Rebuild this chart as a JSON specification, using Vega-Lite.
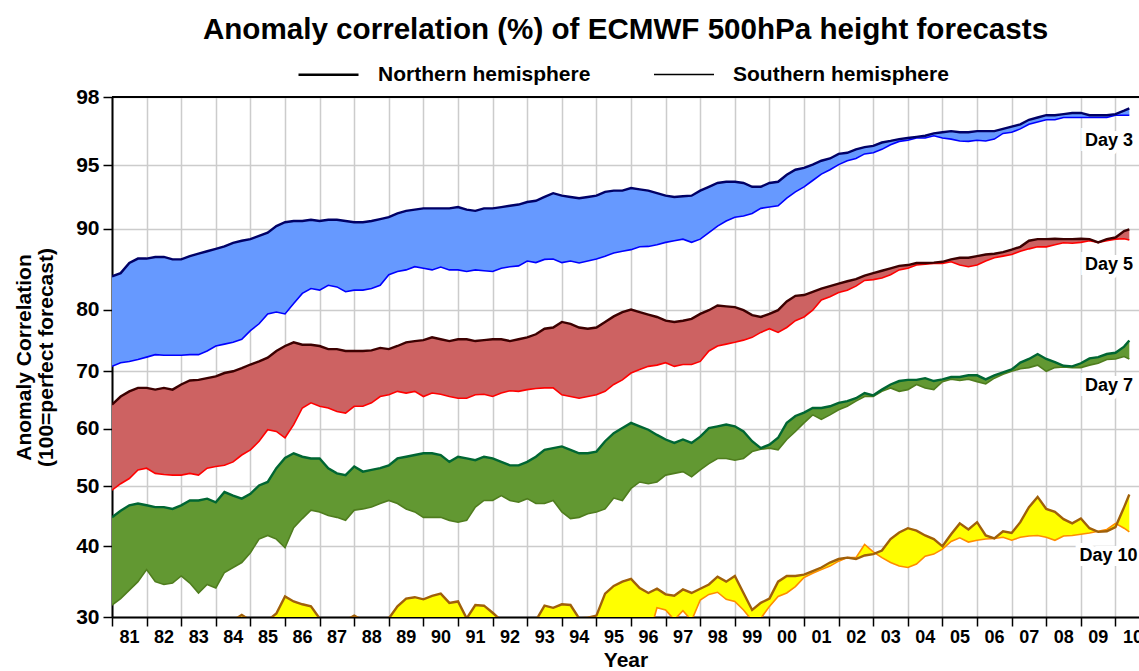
{
"$schema": "https://vega.github.io/schema/vega-lite/v6.json",
"width": 1027, "height": 520,
"autosize": "none",
"padding": {"left": 112, "top": 97, "right": 0, "bottom": 54},
"background": "white",
"title": {"text": "Anomaly correlation (%) of ECMWF 500hPa height forecasts", "font": "Liberation Sans", "fontSize": 29.6, "fontWeight": "bold", "color": "#000", "anchor": "middle", "offset": -3},
"config": {
 "view": {"stroke": null},
 "font": "Liberation Sans",
 "axis": {"labelFont": "Liberation Sans", "labelFontWeight": "bold", "labelColor": "#000", "titleFont": "Liberation Sans", "titleFontWeight": "bold", "titleColor": "#000", "domainColor": "#000", "domainWidth": 2, "tickColor": "#000", "tickWidth": 1.5, "tickSize": 9, "gridColor": "#cccccc", "gridWidth": 1.5},
 "axisX": {"labelOverlap": false},
 "legend": {"orient": "none", "legendX": 185, "legendY": -54, "direction": "horizontal", "symbolType": "stroke", "symbolSize": 3600, "symbolStrokeColor": "#000", "labelFont": "Liberation Sans", "labelFontSize": 21, "labelFontWeight": "bold", "labelColor": "#000", "labelOffset": 18, "columnPadding": 59, "labelLimit": 400, "padding": 0}
},
"datasets": {
"d": [
{"t":1981.0,"n3":84.1,"s3":70.8,"n5":64.2,"s5":49.3,"n7":44.8,"s7":31.7,"n10":29.5,"s10":27},
{"t":1981.25,"n3":84.5,"s3":71.4,"n5":65.6,"s5":50.4,"n7":45.9,"s7":32.6,"n10":29.5,"s10":27},
{"t":1981.5,"n3":85.75,"s3":71.6,"n5":66.5,"s5":51.3,"n7":46.8,"s7":33.8,"n10":29.5,"s10":27},
{"t":1981.75,"n3":86.3,"s3":71.9,"n5":67.1,"s5":52.8,"n7":47.1,"s7":35.0,"n10":29.5,"s10":27},
{"t":1982.0,"n3":86.3,"s3":72.3,"n5":67.1,"s5":53.1,"n7":46.8,"s7":36.7,"n10":29.5,"s10":27},
{"t":1982.25,"n3":86.5,"s3":72.7,"n5":66.8,"s5":52.2,"n7":46.5,"s7":35.0,"n10":29.5,"s10":27},
{"t":1982.5,"n3":86.5,"s3":72.6,"n5":67.1,"s5":52.0,"n7":46.5,"s7":34.6,"n10":29.5,"s10":27},
{"t":1982.75,"n3":86.2,"s3":72.6,"n5":66.8,"s5":51.9,"n7":46.2,"s7":34.8,"n10":29.5,"s10":27},
{"t":1983.0,"n3":86.2,"s3":72.6,"n5":67.7,"s5":51.9,"n7":46.8,"s7":35.8,"n10":29.5,"s10":27},
{"t":1983.25,"n3":86.6,"s3":72.7,"n5":68.4,"s5":52.2,"n7":47.6,"s7":34.8,"n10":29.5,"s10":27},
{"t":1983.5,"n3":86.9,"s3":72.7,"n5":68.5,"s5":51.9,"n7":47.6,"s7":33.4,"n10":29.5,"s10":27},
{"t":1983.75,"n3":87.2,"s3":73.3,"n5":68.8,"s5":53.1,"n7":47.9,"s7":34.6,"n10":29.5,"s10":27},
{"t":1984.0,"n3":87.5,"s3":74.1,"n5":69.1,"s5":53.4,"n7":47.3,"s7":34.1,"n10":29.5,"s10":27},
{"t":1984.25,"n3":87.8,"s3":74.4,"n5":69.7,"s5":53.6,"n7":49.0,"s7":36.3,"n10":29.5,"s10":27},
{"t":1984.5,"n3":88.25,"s3":74.7,"n5":70.0,"s5":54.2,"n7":48.4,"s7":37.0,"n10":29.5,"s10":27},
{"t":1984.75,"n3":88.5,"s3":75.2,"n5":70.5,"s5":55.4,"n7":47.9,"s7":37.7,"n10":30.3,"s10":27},
{"t":1985.0,"n3":88.7,"s3":76.6,"n5":71.1,"s5":56.3,"n7":48.7,"s7":39.1,"n10":29.5,"s10":27},
{"t":1985.25,"n3":89.1,"s3":77.7,"n5":71.6,"s5":57.8,"n7":50.1,"s7":41.2,"n10":29.5,"s10":27},
{"t":1985.5,"n3":89.5,"s3":79.3,"n5":72.2,"s5":59.8,"n7":50.7,"s7":41.8,"n10":29.5,"s10":27},
{"t":1985.75,"n3":90.2,"s3":79.6,"n5":73.3,"s5":59.5,"n7":53.1,"s7":41.2,"n10":30.5,"s10":27},
{"t":1986.0,"n3":90.5,"s3":79.3,"n5":74.1,"s5":58.4,"n7":54.9,"s7":39.8,"n10":32.9,"s10":27},
{"t":1986.25,"n3":90.6,"s3":80.75,"n5":74.7,"s5":60.7,"n7":55.7,"s7":43.1,"n10":32.2,"s10":27},
{"t":1986.5,"n3":90.6,"s3":82.0,"n5":74.3,"s5":63.6,"n7":55.1,"s7":44.6,"n10":31.8,"s10":27},
{"t":1986.75,"n3":90.7,"s3":82.6,"n5":74.3,"s5":64.5,"n7":54.8,"s7":46.0,"n10":31.5,"s10":27},
{"t":1987.0,"n3":90.6,"s3":82.4,"n5":74.1,"s5":63.9,"n7":54.8,"s7":45.7,"n10":29.8,"s10":27},
{"t":1987.25,"n3":90.7,"s3":83.0,"n5":73.6,"s5":63.6,"n7":53.1,"s7":45.1,"n10":29.5,"s10":27},
{"t":1987.5,"n3":90.7,"s3":82.8,"n5":73.6,"s5":63.0,"n7":52.2,"s7":44.8,"n10":29.5,"s10":27},
{"t":1987.75,"n3":90.6,"s3":82.2,"n5":73.3,"s5":62.7,"n7":51.9,"s7":44.3,"n10":29.5,"s10":27},
{"t":1988.0,"n3":90.5,"s3":82.4,"n5":73.3,"s5":63.9,"n7":53.4,"s7":46.0,"n10":30.2,"s10":27},
{"t":1988.25,"n3":90.5,"s3":82.4,"n5":73.3,"s5":63.9,"n7":52.5,"s7":46.2,"n10":29.5,"s10":27},
{"t":1988.5,"n3":90.6,"s3":82.6,"n5":73.4,"s5":64.5,"n7":52.8,"s7":46.5,"n10":29.5,"s10":27},
{"t":1988.75,"n3":90.75,"s3":83.0,"n5":73.8,"s5":65.6,"n7":53.1,"s7":47.1,"n10":29.8,"s10":27},
{"t":1989.0,"n3":90.9,"s3":84.3,"n5":73.6,"s5":65.9,"n7":53.6,"s7":47.6,"n10":29.8,"s10":27},
{"t":1989.25,"n3":91.2,"s3":84.7,"n5":74.1,"s5":66.5,"n7":54.8,"s7":47.1,"n10":31.5,"s10":27},
{"t":1989.5,"n3":91.4,"s3":84.9,"n5":74.7,"s5":66.2,"n7":55.1,"s7":46.2,"n10":32.6,"s10":27},
{"t":1989.75,"n3":91.5,"s3":85.3,"n5":74.9,"s5":66.5,"n7":55.4,"s7":45.7,"n10":32.8,"s10":27},
{"t":1990.0,"n3":91.6,"s3":85.1,"n5":75.05,"s5":65.6,"n7":55.7,"s7":44.8,"n10":32.5,"s10":27},
{"t":1990.25,"n3":91.6,"s3":84.9,"n5":75.5,"s5":66.2,"n7":55.7,"s7":44.8,"n10":33.0,"s10":27},
{"t":1990.5,"n3":91.6,"s3":85.25,"n5":75.2,"s5":66.0,"n7":55.4,"s7":44.8,"n10":33.3,"s10":27},
{"t":1990.75,"n3":91.6,"s3":84.9,"n5":74.9,"s5":65.6,"n7":54.2,"s7":44.3,"n10":32.0,"s10":27},
{"t":1991.0,"n3":91.7,"s3":84.9,"n5":75.2,"s5":65.3,"n7":55.1,"s7":44.0,"n10":32.2,"s10":27},
{"t":1991.25,"n3":91.5,"s3":84.7,"n5":75.2,"s5":65.3,"n7":54.8,"s7":44.3,"n10":29.8,"s10":27},
{"t":1991.5,"n3":91.4,"s3":84.9,"n5":74.9,"s5":65.9,"n7":54.5,"s7":46.5,"n10":31.7,"s10":27},
{"t":1991.75,"n3":91.6,"s3":84.8,"n5":75.05,"s5":66.0,"n7":55.1,"s7":47.6,"n10":31.6,"s10":27},
{"t":1992.0,"n3":91.6,"s3":84.7,"n5":75.2,"s5":65.6,"n7":54.8,"s7":47.6,"n10":30.6,"s10":27},
{"t":1992.25,"n3":91.7,"s3":85.1,"n5":75.2,"s5":66.2,"n7":54.2,"s7":48.4,"n10":29.5,"s10":27},
{"t":1992.5,"n3":91.8,"s3":85.3,"n5":74.9,"s5":66.6,"n7":53.6,"s7":47.6,"n10":29.5,"s10":27},
{"t":1992.75,"n3":91.9,"s3":85.4,"n5":75.2,"s5":66.5,"n7":53.6,"s7":47.3,"n10":29.5,"s10":27},
{"t":1993.0,"n3":92.1,"s3":86.0,"n5":75.5,"s5":66.8,"n7":54.2,"s7":47.9,"n10":29.5,"s10":27},
{"t":1993.25,"n3":92.2,"s3":85.8,"n5":76.0,"s5":67.0,"n7":55.1,"s7":47.1,"n10":29.5,"s10":27},
{"t":1993.5,"n3":92.5,"s3":86.2,"n5":76.9,"s5":67.1,"n7":56.3,"s7":47.1,"n10":31.6,"s10":27},
{"t":1993.75,"n3":92.8,"s3":86.25,"n5":77.1,"s5":67.1,"n7":56.6,"s7":47.6,"n10":31.3,"s10":27},
{"t":1994.0,"n3":92.6,"s3":85.8,"n5":78.0,"s5":65.9,"n7":56.9,"s7":45.7,"n10":31.8,"s10":27},
{"t":1994.25,"n3":92.5,"s3":86.0,"n5":77.7,"s5":65.6,"n7":56.3,"s7":44.6,"n10":31.7,"s10":27},
{"t":1994.5,"n3":92.4,"s3":85.75,"n5":77.1,"s5":65.3,"n7":55.7,"s7":44.8,"n10":29.8,"s10":27},
{"t":1994.75,"n3":92.5,"s3":86.0,"n5":76.9,"s5":65.6,"n7":55.7,"s7":45.4,"n10":29.9,"s10":27},
{"t":1995.0,"n3":92.6,"s3":86.25,"n5":77.1,"s5":65.9,"n7":56.0,"s7":45.7,"n10":30.2,"s10":27},
{"t":1995.25,"n3":92.9,"s3":86.6,"n5":78.0,"s5":66.5,"n7":57.8,"s7":46.2,"n10":33.3,"s10":27},
{"t":1995.5,"n3":93.0,"s3":87.0,"n5":78.9,"s5":67.7,"n7":59.2,"s7":48.0,"n10":34.4,"s10":27},
{"t":1995.75,"n3":93.0,"s3":87.2,"n5":79.6,"s5":68.5,"n7":60.1,"s7":47.6,"n10":35.0,"s10":27},
{"t":1996.0,"n3":93.2,"s3":87.4,"n5":80.0,"s5":69.7,"n7":61.0,"s7":49.6,"n10":35.4,"s10":27},
{"t":1996.25,"n3":93.1,"s3":87.75,"n5":79.6,"s5":70.3,"n7":60.4,"s7":50.7,"n10":34.1,"s10":27},
{"t":1996.5,"n3":93.0,"s3":87.8,"n5":79.2,"s5":70.8,"n7":59.8,"s7":50.4,"n10":33.4,"s10":27},
{"t":1996.75,"n3":92.8,"s3":88.0,"n5":78.8,"s5":71.0,"n7":58.9,"s7":50.7,"n10":34.0,"s10":31.3},
{"t":1997.0,"n3":92.6,"s3":88.3,"n5":78.2,"s5":71.4,"n7":58.1,"s7":51.9,"n10":33.2,"s10":31.0},
{"t":1997.25,"n3":92.5,"s3":88.5,"n5":78.0,"s5":70.8,"n7":57.5,"s7":52.2,"n10":33.0,"s10":29.6},
{"t":1997.5,"n3":92.55,"s3":88.7,"n5":78.2,"s5":71.1,"n7":58.1,"s7":52.5,"n10":33.9,"s10":30.9},
{"t":1997.75,"n3":92.6,"s3":88.3,"n5":78.5,"s5":71.1,"n7":57.5,"s7":51.6,"n10":33.4,"s10":29.5},
{"t":1998.0,"n3":93.0,"s3":88.7,"n5":79.3,"s5":71.6,"n7":58.6,"s7":52.8,"n10":34.0,"s10":32.4},
{"t":1998.25,"n3":93.3,"s3":89.5,"n5":79.9,"s5":73.3,"n7":60.1,"s7":53.9,"n10":34.6,"s10":33.2},
{"t":1998.5,"n3":93.6,"s3":90.2,"n5":80.5,"s5":74.1,"n7":60.4,"s7":54.8,"n10":35.7,"s10":33.5},
{"t":1998.75,"n3":93.7,"s3":90.6,"n5":80.4,"s5":74.4,"n7":60.7,"s7":54.8,"n10":35.0,"s10":32.5},
{"t":1999.0,"n3":93.7,"s3":90.9,"n5":80.3,"s5":74.7,"n7":60.4,"s7":54.5,"n10":35.8,"s10":32.2},
{"t":1999.25,"n3":93.6,"s3":91.0,"n5":79.9,"s5":75.05,"n7":59.5,"s7":54.8,"n10":33.4,"s10":31.0},
{"t":1999.5,"n3":93.3,"s3":91.2,"n5":79.1,"s5":75.5,"n7":57.8,"s7":56.0,"n10":31.0,"s10":29.5},
{"t":1999.75,"n3":93.3,"s3":91.6,"n5":78.8,"s5":76.3,"n7":56.6,"s7":56.4,"n10":32.0,"s10":29.8},
{"t":2000.0,"n3":93.6,"s3":91.7,"n5":79.3,"s5":76.9,"n7":57.2,"s7":56.6,"n10":32.6,"s10":31.5},
{"t":2000.25,"n3":93.7,"s3":91.8,"n5":79.9,"s5":76.3,"n7":58.4,"s7":56.3,"n10":35.0,"s10":32.9},
{"t":2000.5,"n3":94.25,"s3":92.4,"n5":81.0,"s5":77.1,"n7":61.0,"s7":58.1,"n10":35.8,"s10":33.4},
{"t":2000.75,"n3":94.65,"s3":92.9,"n5":81.7,"s5":78.2,"n7":62.2,"s7":59.5,"n10":35.8,"s10":34.3},
{"t":2001.0,"n3":94.8,"s3":93.3,"n5":81.8,"s5":78.8,"n7":62.8,"s7":61.0,"n10":36.0,"s10":35.6},
{"t":2001.25,"n3":95.03,"s3":93.8,"n5":82.2,"s5":79.9,"n7":63.6,"s7":62.4,"n10":36.5,"s10":36.2},
{"t":2001.5,"n3":95.2,"s3":94.3,"n5":82.6,"s5":81.2,"n7":63.6,"s7":61.6,"n10":37.0,"s10":36.7},
{"t":2001.75,"n3":95.3,"s3":94.65,"n5":82.9,"s5":81.6,"n7":63.9,"s7":62.4,"n10":37.7,"s10":37.2},
{"t":2002.0,"n3":95.5,"s3":95.03,"n5":83.2,"s5":82.1,"n7":64.5,"s7":63.3,"n10":38.2,"s10":37.9},
{"t":2002.25,"n3":95.55,"s3":95.2,"n5":83.5,"s5":82.4,"n7":64.8,"s7":63.9,"n10":38.4,"s10":38.4},
{"t":2002.5,"n3":95.7,"s3":95.3,"n5":83.75,"s5":82.9,"n7":65.3,"s7":64.8,"n10":38.2,"s10":38.4},
{"t":2002.75,"n3":95.8,"s3":95.5,"n5":84.2,"s5":83.6,"n7":66.2,"s7":65.6,"n10":38.7,"s10":40.3},
{"t":2003.0,"n3":95.85,"s3":95.55,"n5":84.5,"s5":83.7,"n7":65.8,"s7":65.6,"n10":38.9,"s10":39.2},
{"t":2003.25,"n3":96.0,"s3":95.7,"n5":84.8,"s5":83.9,"n7":66.8,"s7":66.5,"n10":39.4,"s10":38.4},
{"t":2003.5,"n3":96.07,"s3":95.9,"n5":85.1,"s5":84.3,"n7":67.7,"s7":67.1,"n10":41.2,"s10":37.7},
{"t":2003.75,"n3":96.15,"s3":96.05,"n5":85.4,"s5":84.9,"n7":68.3,"s7":66.5,"n10":42.3,"s10":37.2},
{"t":2004.0,"n3":96.2,"s3":96.1,"n5":85.5,"s5":85.1,"n7":68.5,"s7":66.8,"n10":43.0,"s10":37.0},
{"t":2004.25,"n3":96.25,"s3":96.2,"n5":85.75,"s5":85.5,"n7":68.5,"s7":67.7,"n10":42.6,"s10":37.5},
{"t":2004.5,"n3":96.3,"s3":96.2,"n5":85.75,"s5":85.6,"n7":68.8,"s7":67.1,"n10":41.8,"s10":38.6},
{"t":2004.75,"n3":96.4,"s3":96.3,"n5":85.8,"s5":85.7,"n7":68.3,"s7":66.8,"n10":41.2,"s10":38.9},
{"t":2005.0,"n3":96.45,"s3":96.2,"n5":85.9,"s5":85.7,"n7":68.6,"s7":68.2,"n10":40.0,"s10":39.6},
{"t":2005.25,"n3":96.5,"s3":96.15,"n5":86.2,"s5":85.9,"n7":69.0,"s7":68.6,"n10":42.0,"s10":40.8},
{"t":2005.5,"n3":96.45,"s3":96.07,"n5":86.4,"s5":85.5,"n7":69.0,"s7":68.4,"n10":43.8,"s10":41.4},
{"t":2005.75,"n3":96.45,"s3":96.05,"n5":86.4,"s5":85.3,"n7":69.3,"s7":68.6,"n10":42.8,"s10":40.7},
{"t":2006.0,"n3":96.5,"s3":96.1,"n5":86.6,"s5":85.5,"n7":69.3,"s7":68.2,"n10":44.0,"s10":41.0},
{"t":2006.25,"n3":96.5,"s3":96.07,"n5":86.8,"s5":86.0,"n7":68.6,"s7":67.8,"n10":41.8,"s10":41.2},
{"t":2006.5,"n3":96.5,"s3":96.15,"n5":86.9,"s5":86.4,"n7":69.3,"s7":68.8,"n10":41.3,"s10":41.3},
{"t":2006.75,"n3":96.6,"s3":96.4,"n5":87.1,"s5":86.6,"n7":69.8,"s7":69.5,"n10":42.5,"s10":41.5},
{"t":2007.0,"n3":96.7,"s3":96.45,"n5":87.4,"s5":86.8,"n7":70.3,"s7":70.0,"n10":42.2,"s10":41.0},
{"t":2007.25,"n3":96.8,"s3":96.6,"n5":87.75,"s5":87.2,"n7":71.4,"s7":70.4,"n10":44.0,"s10":41.5},
{"t":2007.5,"n3":97.0,"s3":96.8,"n5":88.5,"s5":87.5,"n7":72.0,"s7":70.6,"n10":46.5,"s10":41.7},
{"t":2007.75,"n3":97.1,"s3":96.9,"n5":88.7,"s5":87.75,"n7":72.8,"s7":71.0,"n10":48.2,"s10":41.8},
{"t":2008.0,"n3":97.2,"s3":97.0,"n5":88.7,"s5":87.75,"n7":72.0,"s7":70.0,"n10":46.2,"s10":41.5},
{"t":2008.25,"n3":97.2,"s3":97.0,"n5":88.75,"s5":88.0,"n7":71.5,"s7":70.6,"n10":45.7,"s10":41.0},
{"t":2008.5,"n3":97.25,"s3":97.1,"n5":88.7,"s5":88.25,"n7":70.9,"s7":70.7,"n10":44.5,"s10":41.7},
{"t":2008.75,"n3":97.3,"s3":97.1,"n5":88.7,"s5":88.2,"n7":70.8,"s7":70.6,"n10":43.8,"s10":41.8},
{"t":2009.0,"n3":97.3,"s3":97.1,"n5":88.75,"s5":88.3,"n7":71.3,"s7":70.6,"n10":44.6,"s10":42.0},
{"t":2009.25,"n3":97.2,"s3":97.1,"n5":88.7,"s5":88.5,"n7":72.1,"s7":71.0,"n10":43.0,"s10":42.2},
{"t":2009.5,"n3":97.2,"s3":97.1,"n5":88.3,"s5":88.3,"n7":72.3,"s7":71.3,"n10":42.4,"s10":42.5},
{"t":2009.75,"n3":97.2,"s3":97.1,"n5":88.7,"s5":88.5,"n7":72.8,"s7":71.9,"n10":42.5,"s10":42.8},
{"t":2010.0,"n3":97.25,"s3":97.2,"n5":88.9,"s5":88.7,"n7":73.0,"s7":72.0,"n10":43.2,"s10":43.8},
{"t":2010.25,"n3":97.4,"s3":97.2,"n5":89.7,"s5":88.75,"n7":74.0,"s7":72.4,"n10":46.5,"s10":43.0},
{"t":2010.4,"n3":97.5,"s3":97.2,"n5":89.9,"s5":88.6,"n7":75.0,"s7":72.0,"n10":48.6,"s10":42.4}
],
"lab": [
{"t":2009.12,"v":96.07,"label":"Day 3"},
{"t":2009.12,"v":85.5,"label":"Day 5"},
{"t":2009.12,"v":67.4,"label":"Day 7"},
{"t":2008.96,"v":38.65,"label":"Day 10"}
]
},
"data": {"name": "d"},
"encoding": {
 "x": {"field": "t", "type": "quantitative", "scale": {"domain": [1981, 2010.68], "nice": false, "zero": false},
  "axis": {"values": [1981,1982,1983,1984,1985,1986,1987,1988,1989,1990,1991,1992,1993,1994,1995,1996,1997,1998,1999,2000,2001,2002,2003,2004,2005,2006,2007,2008,2009,2010],
   "labelExpr": "slice(toString(datum.value), 2)", "labelOffset": 17, "labelFontSize": 18, "labelPadding": 2, "labelOverlap": false, "labelBound": false, "labelFlush": false, "grid": true,
   "title": "Year", "titleFontSize": 21, "titlePadding": 3}}
},
"layer": [
{"mark": {"type": "area", "color": "#6699ff", "clip": true},
 "encoding": {
  "y": {"field": "n3", "type": "quantitative", "scale": {"domain": [30,40,50,60,70,80,90,95,98], "range": [520,449.3,389,331.6,274.3,212.6,131.6,68.3,0], "nice": false, "zero": false},
   "axis": {"values": [30,40,50,60,70,80,90,95,98], "labelFontSize": 21, "labelPadding": 4, "grid": true,
    "title": ["Anomaly Correlation", "(100=perfect forecast)"], "titleFontSize": 21, "titleLineHeight": 22, "titlePadding": 19}},
  "y2": {"field": "s3"}}},
{"mark": {"type": "area", "color": "#cd6262", "clip": true},
 "encoding": {
  "y": {"field": "n5", "type": "quantitative", "scale": {"domain": [30,40,50,60,70,80,90,95,98], "range": [520,449.3,389,331.6,274.3,212.6,131.6,68.3,0], "nice": false, "zero": false}},
  "y2": {"field": "s5"}}},
{"mark": {"type": "area", "color": "#629832", "clip": true},
 "encoding": {
  "y": {"field": "n7", "type": "quantitative", "scale": {"domain": [30,40,50,60,70,80,90,95,98], "range": [520,449.3,389,331.6,274.3,212.6,131.6,68.3,0], "nice": false, "zero": false}},
  "y2": {"field": "s7"}}},
{"mark": {"type": "area", "color": "#ffff00", "clip": true},
 "encoding": {
  "y": {"field": "n10", "type": "quantitative", "scale": {"domain": [30,40,50,60,70,80,90,95,98], "range": [520,449.3,389,331.6,274.3,212.6,131.6,68.3,0], "nice": false, "zero": false}},
  "y2": {"field": "s10"}}},
{"mark": {"type": "line", "color": "#0000ff", "clip": true},
 "encoding": {
  "y": {"field": "s3", "type": "quantitative", "scale": {"domain": [30,40,50,60,70,80,90,95,98], "range": [520,449.3,389,331.6,274.3,212.6,131.6,68.3,0], "nice": false, "zero": false}},
  "strokeWidth": {"datum": "Southern hemisphere", "type": "ordinal", "scale": {"domain": ["Northern hemisphere", "Southern hemisphere"], "range": [2.4, 1.6]}, "legend": {"title": null}}}},
{"mark": {"type": "line", "color": "#000066", "clip": true},
 "encoding": {
  "y": {"field": "n3", "type": "quantitative", "scale": {"domain": [30,40,50,60,70,80,90,95,98], "range": [520,449.3,389,331.6,274.3,212.6,131.6,68.3,0], "nice": false, "zero": false}},
  "strokeWidth": {"datum": "Northern hemisphere", "type": "ordinal", "scale": {"domain": ["Northern hemisphere", "Southern hemisphere"], "range": [2.4, 1.6]}, "legend": {"title": null}}}},
{"mark": {"type": "line", "color": "#ff0000", "clip": true},
 "encoding": {
  "y": {"field": "s5", "type": "quantitative", "scale": {"domain": [30,40,50,60,70,80,90,95,98], "range": [520,449.3,389,331.6,274.3,212.6,131.6,68.3,0], "nice": false, "zero": false}},
  "strokeWidth": {"datum": "Southern hemisphere", "type": "ordinal", "scale": {"domain": ["Northern hemisphere", "Southern hemisphere"], "range": [2.4, 1.6]}, "legend": {"title": null}}}},
{"mark": {"type": "line", "color": "#3c0000", "clip": true},
 "encoding": {
  "y": {"field": "n5", "type": "quantitative", "scale": {"domain": [30,40,50,60,70,80,90,95,98], "range": [520,449.3,389,331.6,274.3,212.6,131.6,68.3,0], "nice": false, "zero": false}},
  "strokeWidth": {"datum": "Northern hemisphere", "type": "ordinal", "scale": {"domain": ["Northern hemisphere", "Southern hemisphere"], "range": [2.4, 1.6]}, "legend": {"title": null}}}},
{"mark": {"type": "line", "color": "#4f7d1e", "clip": true},
 "encoding": {
  "y": {"field": "s7", "type": "quantitative", "scale": {"domain": [30,40,50,60,70,80,90,95,98], "range": [520,449.3,389,331.6,274.3,212.6,131.6,68.3,0], "nice": false, "zero": false}},
  "strokeWidth": {"datum": "Southern hemisphere", "type": "ordinal", "scale": {"domain": ["Northern hemisphere", "Southern hemisphere"], "range": [2.4, 1.6]}, "legend": {"title": null}}}},
{"mark": {"type": "line", "color": "#006633", "clip": true},
 "encoding": {
  "y": {"field": "n7", "type": "quantitative", "scale": {"domain": [30,40,50,60,70,80,90,95,98], "range": [520,449.3,389,331.6,274.3,212.6,131.6,68.3,0], "nice": false, "zero": false}},
  "strokeWidth": {"datum": "Northern hemisphere", "type": "ordinal", "scale": {"domain": ["Northern hemisphere", "Southern hemisphere"], "range": [2.4, 1.6]}, "legend": {"title": null}}}},
{"mark": {"type": "line", "color": "#ff8c00", "clip": true},
 "encoding": {
  "y": {"field": "s10", "type": "quantitative", "scale": {"domain": [30,40,50,60,70,80,90,95,98], "range": [520,449.3,389,331.6,274.3,212.6,131.6,68.3,0], "nice": false, "zero": false}},
  "strokeWidth": {"datum": "Southern hemisphere", "type": "ordinal", "scale": {"domain": ["Northern hemisphere", "Southern hemisphere"], "range": [2.4, 1.6]}, "legend": {"title": null}}}},
{"mark": {"type": "line", "color": "#a0600a", "clip": true},
 "encoding": {
  "y": {"field": "n10", "type": "quantitative", "scale": {"domain": [30,40,50,60,70,80,90,95,98], "range": [520,449.3,389,331.6,274.3,212.6,131.6,68.3,0], "nice": false, "zero": false}},
  "strokeWidth": {"datum": "Northern hemisphere", "type": "ordinal", "scale": {"domain": ["Northern hemisphere", "Southern hemisphere"], "range": [2.4, 1.6]}, "legend": {"title": null}}}},
{"data": {"values": [{"t": 1981, "t2": 2010.68, "b": 98}]},
 "mark": {"type": "rule", "color": "#000", "strokeWidth": 2},
 "encoding": {
  "x2": {"field": "t2"},
  "y": {"field": "b", "type": "quantitative", "scale": {"domain": [30,40,50,60,70,80,90,95,98], "range": [520,449.3,389,331.6,274.3,212.6,131.6,68.3,0], "nice": false, "zero": false}}}},
{"data": {"name": "lab"},
 "mark": {"type": "text", "align": "left", "baseline": "middle", "font": "Liberation Sans", "fontSize": 18, "fontWeight": "bold", "stroke": "#fff", "strokeWidth": 10, "fill": "#fff"},
 "encoding": {
  "y": {"field": "v", "type": "quantitative", "scale": {"domain": [30,40,50,60,70,80,90,95,98], "range": [520,449.3,389,331.6,274.3,212.6,131.6,68.3,0], "nice": false, "zero": false}},
  "text": {"field": "label"}}},
{"data": {"name": "lab"},
 "mark": {"type": "text", "align": "left", "baseline": "middle", "font": "Liberation Sans", "fontSize": 18, "fontWeight": "bold", "fill": "#000"},
 "encoding": {
  "y": {"field": "v", "type": "quantitative", "scale": {"domain": [30,40,50,60,70,80,90,95,98], "range": [520,449.3,389,331.6,274.3,212.6,131.6,68.3,0], "nice": false, "zero": false}},
  "text": {"field": "label"}}}
]
}
